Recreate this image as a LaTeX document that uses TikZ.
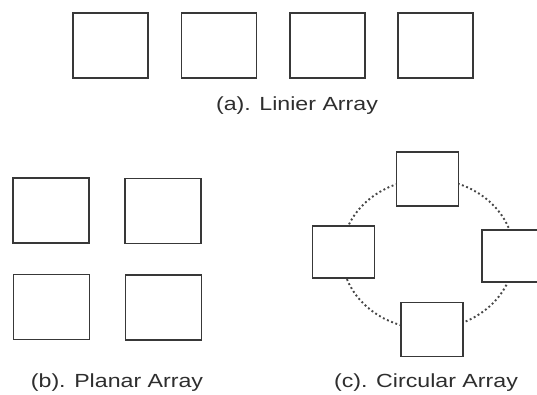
\documentclass[tikz,border=0pt]{standalone}
\usepackage{fontspec}
\setmainfont{Liberation Sans}
\begin{document}
\begin{tikzpicture}[x=1pt,y=-1pt,
  elem/.style={draw=black!78, line width=1.6pt, fill=white, rectangle, inner sep=0pt, outer sep=0pt},
  wide/.style={elem, minimum width=75pt, minimum height=65pt},
  small/.style={elem, minimum width=62pt, minimum height=54pt},
  ring/.style={draw=black!72, line width=1.9pt, dash pattern=on 1.9pt off 2.6pt},
  caption/.style={text=black!82, font=\fontsize{19}{21}\selectfont, xscale=1.22, inner sep=0pt}]
\useasboundingbox (0,0) rectangle (537,394);
\clip (0,0) rectangle (537,394);
% (a) linear array
\node[wide] (a1) at (110.5,45.5) {};
\node[wide] (a2) at (219,45.5) {};
\node[wide] (a3) at (327.5,45.5) {};
\node[wide] (a4) at (435.5,45.5) {};
\node[caption] (la) at (297,106) {(a). Linier Array};
% (b) planar array
\node[wide, minimum width=76pt] (b1) at (51,210.5) {};
\node[wide, minimum width=76pt] (b2) at (163,211) {};
\node[wide, minimum width=76pt] (b3) at (51.5,307) {};
\node[wide, minimum width=76pt] (b4) at (163.5,307.5) {};
\node[caption] (lb) at (117,383) {(b). Planar Array};
% (c) circular array
\coordinate (cc) at (428,254);
\draw[ring] (cc) ellipse [x radius=86pt, y radius=75pt];
\node[small] (c1) at (427.5,179) {};
\node[small, minimum height=52pt] (c2) at (343.5,252) {};
\node[small, minimum height=52pt] (c3) at (513,256) {};
\node[small] (c4) at (432,329.5) {};
\node[caption] (lc) at (426,383) {(c). Circular Array};
\end{tikzpicture}
\end{document}
